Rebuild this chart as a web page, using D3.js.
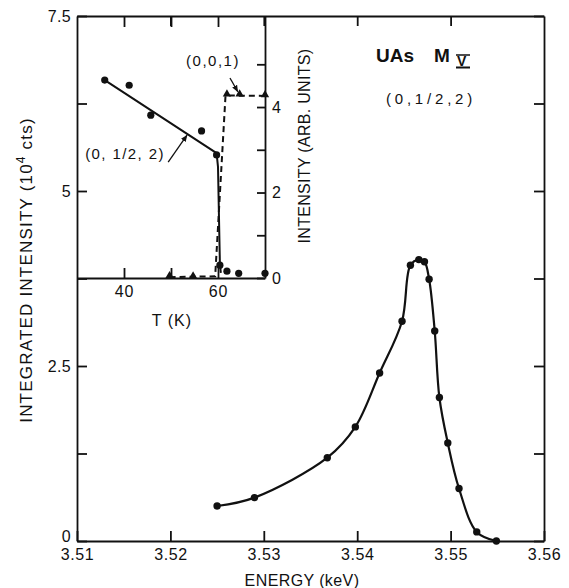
<!DOCTYPE html>
<html>
<head>
<meta charset="utf-8">
<script src="https://cdn.jsdelivr.net/npm/d3@7"></script>
<style>
  body { margin: 0; background: #fff; }
  svg { font-family: "Liberation Sans", Arial, Helvetica, sans-serif; }
  .axis path, .axis line { stroke: #111; stroke-width: 1.8; }
  .axis text { fill: #111; font-size: 16px; }
</style>
</head>
<body>
<svg width="569" height="588"></svg>
<script>
// main scan: energy (keV) vs integrated intensity (10^4 cts)
var energy = [3.5250, 3.5290, 3.5368, 3.5398, 3.5424, 3.5448, 3.5457, 3.5466, 3.5472, 3.5477, 3.5483, 3.5488, 3.5497, 3.5509, 3.5528, 3.5549]
var intensity = [0.50, 0.62, 1.19, 1.63, 2.40, 3.14, 3.94, 4.02, 3.99, 3.74, 3.00, 2.05, 1.40, 0.75, 0.13, 0.00]

// inset: temperature dependence (arb. units)
var tHalf = [35.9, 41.1, 45.7, 56.5, 59.7, 60.4, 61.9, 64.4, 70.0]
var iHalf = [4.63, 4.51, 3.81, 3.44, 2.88, 0.30, 0.16, 0.11, 0.11]
var tHalfLine = [35.9, 59.7, 60.0, 60.4, 60.6]
var iHalfLine = [4.63, 2.92, 2.60, 0.35, 0.12]

var tOne = [49.7, 54.7, 61.9, 64.6, 70.0]
var iOne = [0.03, 0.02, 4.28, 4.28, 4.26]
var tOneLine = [49.7, 59.4, 61.6, 70.0]
var iOneLine = [0.02, 0.04, 4.27, 4.26]

var energyTicks = [3.51, 3.52, 3.53, 3.54, 3.55, 3.56]
var intensityTicks = [0, 1.25, 2.5, 3.75, 5, 6.25, 7.5]
var tTicks = [40, 50, 60]
var arbTicks = [0, 1, 2, 3, 4, 5]

var svg = d3.select("svg")

var x = d3.scaleLinear().domain([3.51, 3.56]).range([77, 544])
var y = d3.scaleLinear().domain([0, 7.5]).range([541, 16])

var ix = d3.scaleLinear().domain([30, 70]).range([77, 265])
var iy = d3.scaleLinear().domain([0, 6.13]).range([278, 16])

var fmt = d3.format("~g")

// main axes
svg.append("g").attr("class", "axis")
  .attr("transform", "translate(0," + y(0) + ")")
  .call(d3.axisBottom(x).tickValues(energyTicks).tickSize(-10).tickSizeOuter(0).tickPadding(8)
    .tickFormat(d3.format(".2f")))
  .call(g => g.selectAll("text").attr("letter-spacing", 0.6))

svg.append("g").attr("class", "axis")
  .attr("transform", "translate(0," + y(7.5) + ")")
  .call(d3.axisTop(x).tickValues(energyTicks.slice(1, 5)).tickSize(-10).tickSizeOuter(0).tickFormat(""))

svg.append("g").attr("class", "axis")
  .attr("transform", "translate(" + x(3.51) + ",0)")
  .call(d3.axisLeft(y).tickValues(intensityTicks).tickSize(-10).tickSizeOuter(0).tickPadding(6)
    .tickFormat(d => d % 2.5 === 0 ? fmt(d) : ""))
  .call(g => g.selectAll("text").attr("letter-spacing", 0.3))
  .call(g => g.selectAll(".tick").filter(d => d === 0).select("text").attr("dy", "0.05em"))

svg.append("g").attr("class", "axis")
  .attr("transform", "translate(" + x(3.56) + ",0)")
  .call(d3.axisRight(y).tickValues(intensityTicks).tickSize(-10).tickSizeOuter(0).tickFormat(""))

// inset frame + axes
svg.append("g").attr("class", "axis")
  .attr("transform", "translate(0," + iy(0) + ")")
  .call(d3.axisBottom(ix).tickValues(tTicks).tickSize(-10).tickSizeOuter(0).tickPadding(8)
    .tickFormat(d => d === 50 ? "" : d))
  .call(g => g.selectAll("text").attr("letter-spacing", 0.8))

svg.append("g").attr("class", "axis")
  .attr("transform", "translate(0," + y(7.5) + ")")
  .call(d3.axisTop(ix).tickValues(tTicks).tickSize(-11).tickSizeOuter(0).tickFormat(""))
  .call(g => g.select(".domain").remove())

svg.append("g").attr("class", "axis")
  .attr("transform", "translate(" + ix(70) + ",0)")
  .call(d3.axisRight(iy).tickValues(arbTicks).tickSize(-8).tickSizeOuter(0).tickPadding(7)
    .tickFormat(d => d % 2 === 0 ? d : ""))

// main curve
var pts = energy.map((e, i) => [e, intensity[i]])
var line = d3.line().x(d => x(d[0])).y(d => y(d[1])).curve(d3.curveCatmullRom.alpha(0.5))

svg.append("path").datum(pts)
  .attr("fill", "none").attr("stroke", "#111").attr("stroke-width", 2.2)
  .attr("d", line)

svg.selectAll(".dot").data(pts).enter().append("circle")
  .attr("cx", d => x(d[0])).attr("cy", d => y(d[1])).attr("r", 3.7).attr("fill", "#111")

// inset lines
var iline = d3.line().x(d => ix(d[0])).y(d => iy(d[1]))

svg.append("path").datum(tHalfLine.map((t, i) => [t, iHalfLine[i]]))
  .attr("fill", "none").attr("stroke", "#111").attr("stroke-width", 2)
  .attr("d", iline)

svg.append("path").datum(tOneLine.map((t, i) => [t, iOneLine[i]]))
  .attr("fill", "none").attr("stroke", "#111").attr("stroke-width", 2)
  .attr("stroke-dasharray", "6,4")
  .attr("d", iline)

svg.selectAll(".idot").data(tHalf.map((t, i) => [t, iHalf[i]])).enter().append("circle")
  .attr("cx", d => ix(d[0])).attr("cy", d => iy(d[1])).attr("r", 3.6).attr("fill", "#111")

svg.selectAll(".itri").data(tOne.map((t, i) => [t, iOne[i]])).enter().append("path")
  .attr("transform", d => "translate(" + ix(d[0]) + "," + (iy(d[1]) - 1) + ")")
  .attr("d", d3.symbol().type(d3.symbolTriangle).size(30))
  .attr("fill", "#111")

// arrows
svg.append("defs").append("marker")
  .attr("id", "ah").attr("viewBox", "0 0 10 10").attr("refX", 9).attr("refY", 5)
  .attr("markerWidth", 7).attr("markerHeight", 7).attr("markerUnits", "userSpaceOnUse")
  .attr("orient", "auto")
  .append("path").attr("d", "M0,1 L10,5 L0,9 Z").attr("fill", "#111")

var arrows = [
  [[62.55, 4.68], [64.2, 4.36]],
  [[49.4, 2.71], [53.4, 3.34]]
]
svg.selectAll(".arrow").data(arrows).enter().append("line")
  .attr("x1", d => ix(d[0][0])).attr("y1", d => iy(d[0][1]))
  .attr("x2", d => ix(d[1][0])).attr("y2", d => iy(d[1][1]))
  .attr("stroke", "#111").attr("stroke-width", 1.3)
  .attr("marker-end", "url(#ah)")

// labels
function txt(xp, yp, s, size, spacing) {
  return svg.append("text").attr("x", xp).attr("y", yp).attr("font-size", size)
    .attr("fill", "#111").attr("text-anchor", "middle")
    .attr("letter-spacing", spacing).text(s)
}

txt(213, 66, "(0,0,1)", 15, 1.5)
txt(125, 159, "(0, 1/2, 2)", 15, 1.4)
txt(172, 326, "T (K)", 16, 1)
txt(302, 586, "ENERGY (keV)", 16, 0.4)
txt(431, 104, "(0,1/2,2)", 15, 3.8)

var yl = svg.append("text").attr("transform", "translate(32,270) rotate(-90)")
  .attr("text-anchor", "middle").attr("font-size", 17).attr("fill", "#111")
  .attr("letter-spacing", 1.2)
yl.append("tspan").text("INTEGRATED INTENSITY (10")
yl.append("tspan").attr("dy", -7).attr("font-size", 12).text("4")
yl.append("tspan").attr("dy", 7).text("  cts)")

svg.append("text").attr("transform", "translate(310,146) rotate(-90)")
  .attr("text-anchor", "middle").attr("font-size", 16).attr("fill", "#111")
  .attr("letter-spacing", 0.3)
  .text("INTENSITY (ARB. UNITS)")

// title
svg.append("text").attr("x", 376).attr("y", 62).attr("font-size", 19).attr("font-weight", "bold")
  .attr("fill", "#111").text("UAs")
svg.append("text").attr("x", 434).attr("y", 62).attr("font-size", 19).attr("font-weight", "bold")
  .attr("fill", "#111").text("M")
svg.append("text").attr("x", 457).attr("y", 66).attr("font-size", 14).attr("font-weight", "bold")
  .attr("fill", "#111").text("V")
svg.append("line").attr("x1", 456).attr("x2", 470).attr("y1", 67.5).attr("y2", 67.5)
  .attr("stroke", "#111").attr("stroke-width", 2)
svg.append("line").attr("x1", 456).attr("x2", 470).attr("y1", 55).attr("y2", 55)
  .attr("stroke", "#111").attr("stroke-width", 1.5)
</script>
</body>
</html>
